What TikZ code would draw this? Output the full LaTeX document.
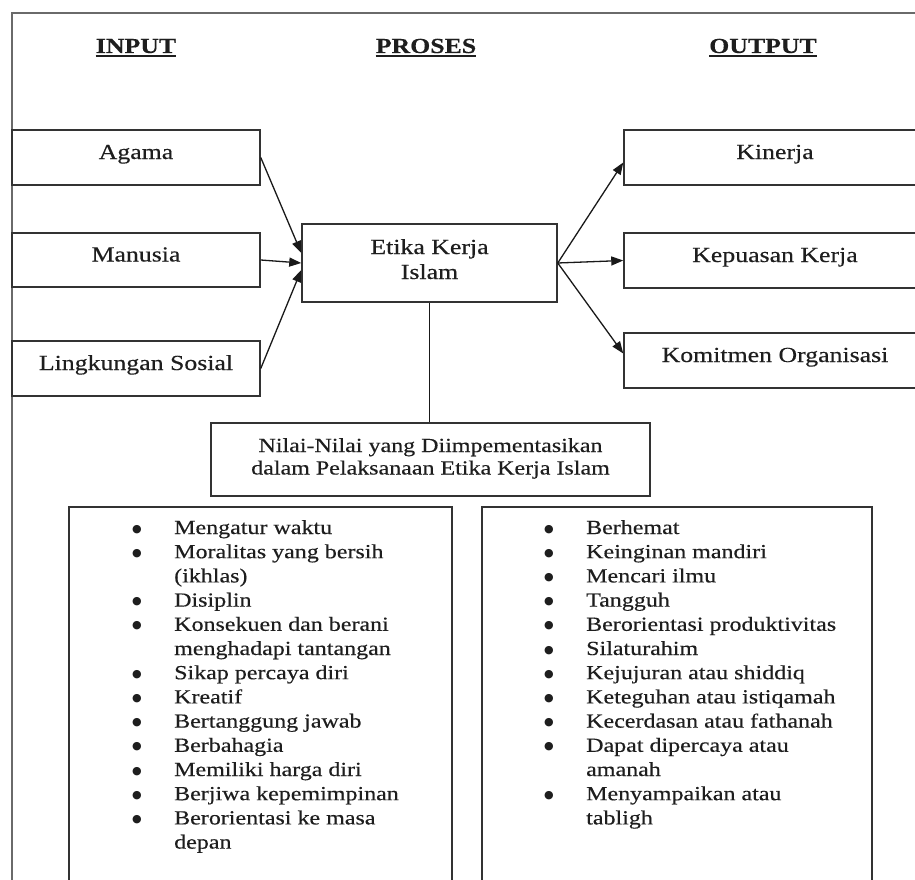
\documentclass[tikz,border=0pt]{standalone}
\usepackage{fontspec}
\usepackage{graphicx}
\setmainfont{Liberation Serif}[FakeStretch=1.2,FakeBold=0.35]
\newfontfamily\bulfont{DejaVu Sans}
\usetikzlibrary{arrows.meta}
\definecolor{ink}{HTML}{1E1E1E}
\definecolor{edgec}{HTML}{333333}
\definecolor{framec}{HTML}{6A6A6A}
\newcommand{\lbul}{\raisebox{2pt}{\bulfont\fontsize{11}{11}\selectfont ●}}
\begin{document}
\begin{tikzpicture}[x=1pt,y=-1pt,
  box/.style={draw=edgec, line width=1.5pt, rectangle, inner sep=0pt, text=ink,
              font=\fontsize{21.5}{25}\selectfont},
  onebox/.style={box, text height=8.5pt, text depth=5.5pt},
  hdr/.style={inner sep=0pt, text=ink, font=\bfseries\fontsize{21.5}{25}\selectfont},
  uline/.style={draw=ink, line width=1.8pt},
  conn/.style={draw=black!90, line width=1.3pt, -{Triangle[length=12pt,width=9pt]}},
  stem/.style={draw=black!90, line width=1.3pt},
  listbox/.style={draw=edgec, line width=1.5pt, rectangle, inner sep=0pt},
  listtxt/.style={inner sep=0pt, anchor=base west, text=ink,
                  font=\fontsize{20}{24.2}\selectfont},
  outerframe/.style={draw=framec, line width=2.2pt}
]
\useasboundingbox (0,0) rectangle (915,880);
\fill[white] (0,0) rectangle (915,880);

% outer frame (open at right and bottom)
\draw[outerframe] (12,960) -- (12,13) -- (960,13);

% headers
\node[hdr, anchor=base] (hin)  at (136,53) {INPUT};
\node[hdr, anchor=base] (hpro) at (426,53) {PROSES};
\node[hdr, anchor=base] (hout) at (763,53) {OUTPUT};
\draw[uline] ([yshift=-3pt]hin.base west)  -- ([yshift=-3pt]hin.base east);
\draw[uline] ([yshift=-3pt]hpro.base west) -- ([yshift=-3pt]hpro.base east);
\draw[uline] ([yshift=-3pt]hout.base west) -- ([yshift=-3pt]hout.base east);

% input boxes
\node[onebox, minimum width=248pt, minimum height=55pt] (agama) at (136,157.5) {Agama};
\node[onebox, minimum width=248pt, minimum height=54pt] (manusia) at (136,260) {Manusia};
\node[onebox, minimum width=248pt, minimum height=55pt] (ling) at (136,368.5) {Lingkungan Sosial};

% process box
\node[box, minimum width=255pt, minimum height=78pt, text height=8pt, text depth=26pt]
  (etika) at (429.5,263) {\begin{tabular}[t]{@{}c@{}}Etika Kerja\\Islam\end{tabular}};

% output boxes
\node[onebox, minimum width=302pt, minimum height=55pt] (kinerja) at (775,157.5) {Kinerja};
\node[onebox, minimum width=302pt, minimum height=55pt] (kepuasan) at (775,260.5) {Kepuasan Kerja};
\node[onebox, minimum width=302pt, minimum height=55pt] (komitmen) at (775,360.5) {Komitmen Organisasi};

% values box
\node[box, font=\fontsize{20}{22.5}\selectfont, minimum width=439pt, minimum height=73pt,
      text height=7pt, text depth=22pt]
  (nilai) at (430.5,459.5) {\begin{tabular}[t]{@{}c@{}}Nilai-Nilai yang Diimpementasikan\\dalam Pelaksanaan Etika Kerja Islam\end{tabular}};

% list boxes
\node[listbox, minimum width=383pt, minimum height=443pt] (leftbox) at (260.5,728.5) {};
\node[listbox, minimum width=390pt, minimum height=443pt] (rightbox) at (677,728.5) {};

\node[listtxt] (lefttxt) at (132,534) {\begin{tabular}[t]{@{}p{42pt}@{}l@{}}
\lbul & Mengatur waktu\\
\lbul & Moralitas yang bersih\\
 & (ikhlas)\\
\lbul & Disiplin\\
\lbul & Konsekuen dan berani\\
 & menghadapi tantangan\\
\lbul & Sikap percaya diri\\
\lbul & Kreatif\\
\lbul & Bertanggung jawab\\
\lbul & Berbahagia\\
\lbul & Memiliki harga diri\\
\lbul & Berjiwa kepemimpinan\\
\lbul & Berorientasi ke masa\\
 & depan
\end{tabular}};

\node[listtxt] (righttxt) at (544,534) {\begin{tabular}[t]{@{}p{42pt}@{}l@{}}
\lbul & Berhemat\\
\lbul & Keinginan mandiri\\
\lbul & Mencari ilmu\\
\lbul & Tangguh\\
\lbul & Berorientasi produktivitas\\
\lbul & Silaturahim\\
\lbul & Kejujuran atau shiddiq\\
\lbul & Keteguhan atau istiqamah\\
\lbul & Kecerdasan atau fathanah\\
\lbul & Dapat dipercaya atau\\
 & amanah\\
\lbul & Menyampaikan atau\\
 & tabligh
\end{tabular}};

% connectors
\draw[conn] (agama.east)   -- ([yshift=10pt]etika.west);
\draw[conn] (manusia.east) -- (etika.west);
\draw[conn] (ling.east)    -- ([yshift=-7pt]etika.west);
\draw[conn] (etika.east) -- ([yshift=-5pt]kinerja.west);
\draw[conn] (etika.east) -- (kepuasan.west);
\draw[conn] (etika.east) -- ([yshift=7pt]komitmen.west);
\draw[stem] (etika.south) -- (etika.south |- nilai.north);
\end{tikzpicture}
\end{document}
